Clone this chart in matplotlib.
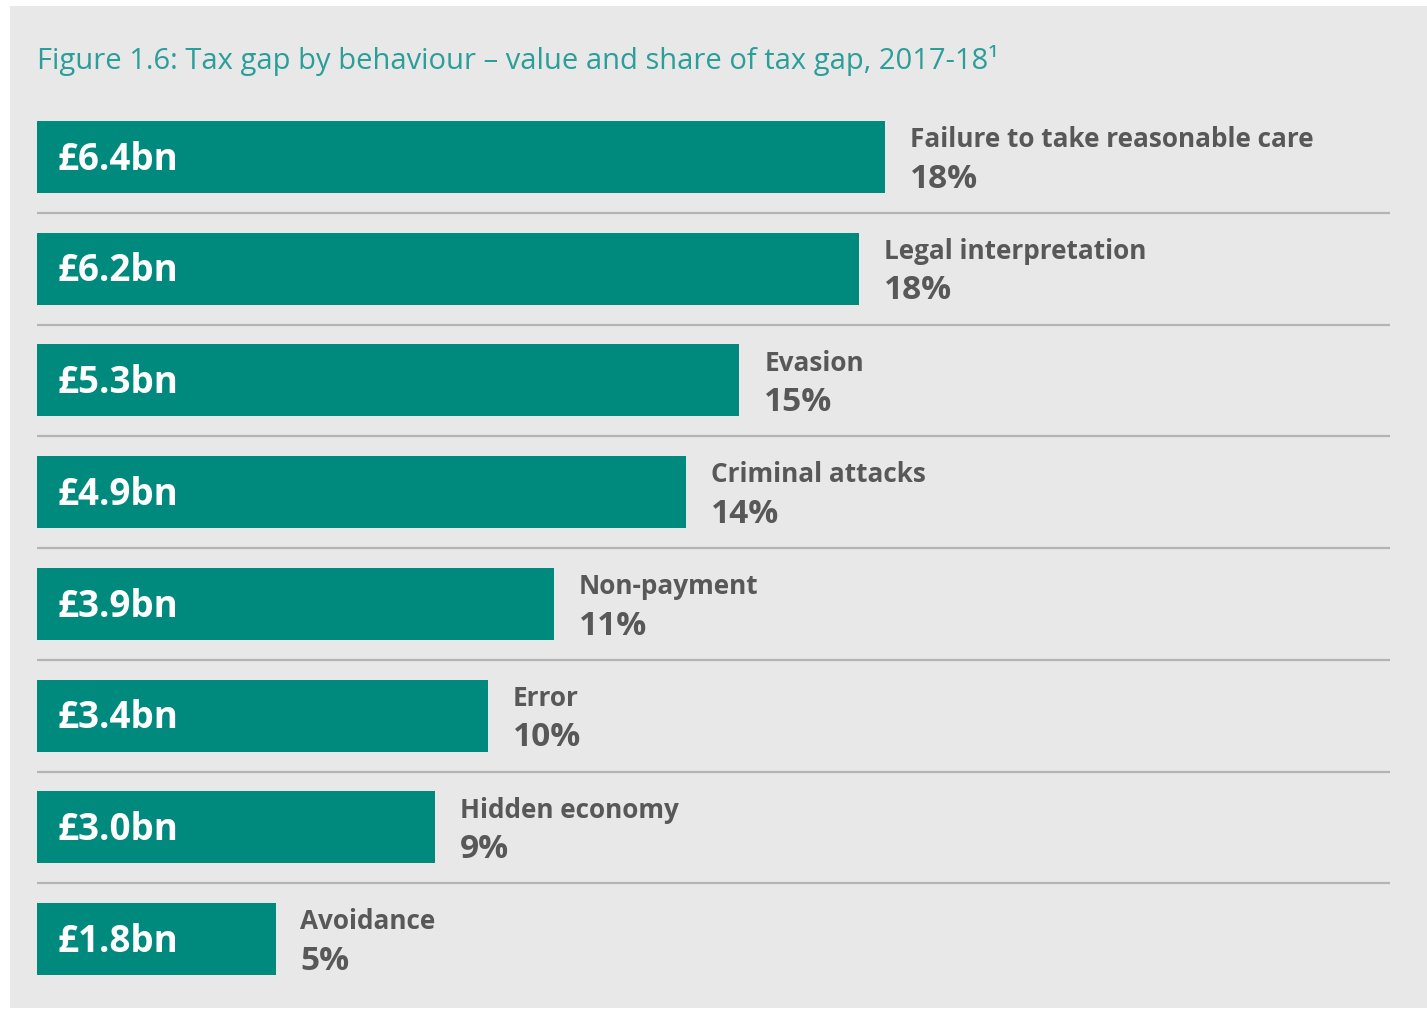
import matplotlib
matplotlib.use("Agg")
import matplotlib.pyplot as plt
from matplotlib.patches import Rectangle

categories = ["Failure to take reasonable care", "Legal interpretation", "Evasion",
              "Criminal attacks", "Non-payment", "Error", "Hidden economy", "Avoidance"]
values = [6.4, 6.2, 5.3, 4.9, 3.9, 3.4, 3.0, 1.8]
value_labels = ["£6.4bn", "£6.2bn", "£5.3bn", "£4.9bn", "£3.9bn", "£3.4bn", "£3.0bn", "£1.8bn"]
shares = ["18%", "18%", "15%", "14%", "11%", "10%", "9%", "5%"]
title = "Figure 1.6: Tax gap by behaviour \u2013 value and share of tax gap, 2017-18\u00b9"

W, H = 1427, 1009
DPI = 100
fig = plt.figure(figsize=(W / DPI, H / DPI), dpi=DPI, facecolor="white")

# grey panel
fig.patches.append(Rectangle((10 / W, 1 - 1008 / H), (W - 10) / W, (1008 - 6) / H,
                             transform=fig.transFigure, facecolor="#e8e8e8",
                             edgecolor="none", zorder=-10))

px_per_bn = 132.5
ax_left, ax_right = 37, 1390
ax_top, ax_bottom = 101, 995
ax = fig.add_axes([ax_left / W, 1 - ax_bottom / H, (ax_right - ax_left) / W,
                   (ax_bottom - ax_top) / H])
ax.set_zorder(5)
ax.set_facecolor("none")
ax.patch.set_alpha(0)
ax.set_xlim(0, (ax_right - ax_left) / px_per_bn)
n = len(categories)
ax.set_ylim(n - 0.5, -0.5)
for s in ax.spines.values():
    s.set_visible(False)
ax.set_xticks([])
ax.set_yticks([])

teal = "#00897d"
ypos = list(range(n))
ax.barh(ypos, values, height=0.645, color=teal, zorder=2)

for i in range(n - 1):
    ax.axhline(i + 0.5, color="#b4b4b4", lw=1.6, zorder=1)

font = "Open Sans"
for i, (v, vl, cat, sh) in enumerate(zip(values, value_labels, categories, shares)):
    ax.annotate(vl, (0, i), xytext=(15, -2), textcoords="offset points",
                ha="left", va="center", color="white", fontsize=26.5,
                fontweight="bold", family=font)
    ax.annotate(cat, (v, i), xytext=(18, 12.5), textcoords="offset points",
                ha="left", va="center", color="#585858", fontsize=18.8,
                fontweight="bold", family=font)
    ax.annotate(sh, (v, i), xytext=(18, -16), textcoords="offset points",
                ha="left", va="center", color="#585858", fontsize=24,
                fontweight="bold", family=font)

fig.text(37 / W, 1 - 60 / H, title, ha="left", va="center", color="#2a9e98",
         fontsize=21, family="Open Sans", zorder=6)

fig.savefig("out.png", dpi=DPI, facecolor="white")
